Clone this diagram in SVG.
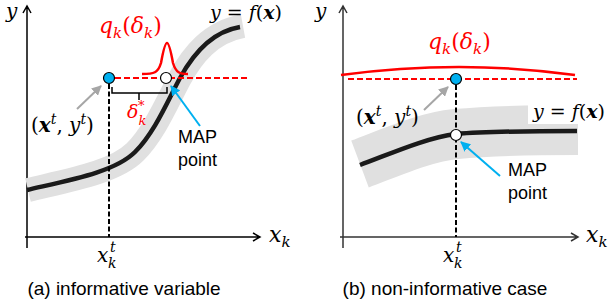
<svg xmlns="http://www.w3.org/2000/svg" width="614" height="304" viewBox="0 0 614 304">
<defs>
<style>
.m{font-family:"DejaVu Serif",serif;font-style:italic}
.u{font-style:normal}
.b{font-weight:bold}
.s{font-family:"Liberation Sans",Arial,sans-serif}
.axis{fill:none;stroke:#000;stroke-width:1.5}
.band{fill:none;stroke:#e0e0e0;stroke-linecap:butt}
.curve{fill:none;stroke:#1a1a1a;stroke-width:4.5;stroke-linecap:butt}
.vdash{fill:none;stroke:#000;stroke-width:2;stroke-dasharray:5 2.5}
.rdash{fill:none;stroke:#ff0000;stroke-width:2;stroke-dasharray:6 3}
.red{fill:none;stroke:#ff0000;stroke-width:2.5}
.garrow{stroke:#a6a6a6;stroke-width:2;fill:none}
.barrow{stroke:#00b0f0;stroke-width:2;fill:none}
</style>
<marker id="ag" viewBox="0 0 10 10" refX="9" refY="5" markerWidth="5" markerHeight="5" orient="auto" markerUnits="strokeWidth"><path d="M0,0 L10,5 L0,10 z" fill="#a6a6a6"/></marker>
<marker id="ab" viewBox="0 0 10 10" refX="9" refY="5" markerWidth="5" markerHeight="5" orient="auto" markerUnits="strokeWidth"><path d="M0,0 L10,5 L0,10 z" fill="#00b0f0"/></marker>
</defs>

<!-- ===== Panel (a) ===== -->
<g id="panel-a-axes">
<path class="axis" d="M27,248 V6 M23,13 L27,6 L31,13"/>
<path class="axis" d="M25,237 H260 M253,233 L260,237 L253,241"/>
<text class="m" x="6" y="18" font-size="20">y</text>
<text class="m" x="269" y="242" font-size="22">x<tspan font-size="15" dy="5">k</tspan></text>
</g>
<g id="a-function">
<path class="band" stroke-width="24" d="M28,190 C70,180 115,172 135,152 C155,132 168,100 180,78 C192,56 210,32 243,26"/>
<path class="curve" d="M27,190 C70,180 115,172 135,152 C155,132 168,100 180,78 C192,56 210,32 240,27"/>
<text class="m" x="210" y="19" font-size="19">y = f<tspan class="u">(</tspan><tspan class="b">x</tspan><tspan class="u">)</tspan></text>
</g>
<g id="a-connectors">
<path class="vdash" d="M109,84 V237"/>
<path class="rdash" d="M115,78 H248"/>
<path fill="none" stroke="#000" stroke-width="1.5" d="M112,87 V93 H167 V87 M139,93 V100"/>
<line class="garrow" x1="77" y1="109" x2="101" y2="86" marker-end="url(#ag)"/>
<line class="barrow" x1="200" y1="126" x2="171" y2="86" marker-end="url(#ab)"/>
</g>
<g id="a-q">
<path class="red" d="M142,74 C154,74 158,73 161,63 C163,52 165,43 167,43 C169,43 171,52 173,63 C176,73 180,74 188,74"/>
<text class="m" x="99" y="33" font-size="22" fill="#ff0000">q<tspan font-size="15" dy="5">k</tspan><tspan class="u" dy="-5">(</tspan>δ<tspan font-size="15" dy="5">k</tspan><tspan class="u" dy="-5">)</tspan></text>
</g>
<g id="a-delta">
<text class="m" x="127" y="118" font-size="19" fill="#ff0000">δ<tspan font-size="13" dy="7">k</tspan></text>
<text class="m" x="138" y="110" font-size="13" fill="#ff0000">*</text>
</g>
<g id="a-point-xy">
<circle cx="109" cy="78" r="5.5" fill="#00b0f0" stroke="#000" stroke-width="1.2"/>
<text class="m" x="31" y="132" font-size="20"><tspan class="u">(</tspan><tspan class="b">x</tspan><tspan font-size="14" dy="-8">t</tspan><tspan class="u" dy="8">, </tspan>y<tspan font-size="14" dy="-8">t</tspan><tspan class="u" dy="8">)</tspan></text>
</g>
<g id="a-map">
<circle cx="166" cy="78" r="5.5" fill="#fff" stroke="#000" stroke-width="1.2"/>
<text class="s" x="178" y="143" font-size="18">MAP</text>
<text class="s" x="178" y="166" font-size="18">point</text>
</g>
<g id="a-xt">
<text class="m" x="97" y="262" font-size="20">x<tspan font-size="14" x="108" dy="6">k</tspan><tspan font-size="14" x="110" dy="-16">t</tspan></text>
</g>
<text class="s" x="124" y="295" font-size="19" text-anchor="middle">(a) informative variable</text>

<!-- ===== Panel (b) ===== -->
<g id="panel-b-axes">
<path class="axis" d="M343,248 V6 M339,13 L343,6 L347,13" style="stroke:#333"/>
<path class="axis" d="M340,237 H578 M571,233 L578,237 L571,241" style="stroke:#333"/>
<text class="m" x="315" y="18" font-size="20">y</text>
<text class="m" x="586" y="242" font-size="22">x<tspan font-size="15" dy="5">k</tspan></text>
</g>
<g id="b-function">
<path class="band" stroke-width="50" d="M360,164 C392,152 425,137 456,134 C490,131 540,130 578,130"/>
<path class="curve" d="M360,165 C390,154 425,138 456,134 C490,131 540,131 577,131"/>
<rect x="528" y="101" width="86" height="23" fill="#fff"/>
<text class="m" x="533" y="118" font-size="19">y = f<tspan class="u">(</tspan><tspan class="b">x</tspan><tspan class="u">)</tspan></text>
</g>
<g id="b-connectors">
<path class="vdash" d="M456,85 V237"/>
<path class="rdash" d="M348,79 H577"/>
<line class="garrow" x1="424" y1="110" x2="448" y2="87" marker-end="url(#ag)"/>
<line class="barrow" x1="500" y1="176" x2="461" y2="142" marker-end="url(#ab)"/>
</g>
<g id="b-q">
<path class="red" d="M341,75 Q460,59 575,75"/>
<text class="m" x="428" y="49" font-size="22" fill="#ff0000">q<tspan font-size="15" dy="5">k</tspan><tspan class="u" dy="-5">(</tspan>δ<tspan font-size="15" dy="5">k</tspan><tspan class="u" dy="-5">)</tspan></text>
</g>
<g id="b-point-xy">
<circle cx="456" cy="79" r="5.5" fill="#00b0f0" stroke="#000" stroke-width="1.2"/>
<text class="m" x="356" y="124" font-size="20"><tspan class="u">(</tspan><tspan class="b">x</tspan><tspan font-size="14" dy="-8">t</tspan><tspan class="u" dy="8">, </tspan>y<tspan font-size="14" dy="-8">t</tspan><tspan class="u" dy="8">)</tspan></text>
</g>
<g id="b-map">
<circle cx="456" cy="135" r="5.5" fill="#fff" stroke="#000" stroke-width="1.2"/>
<text class="s" x="508" y="176" font-size="18">MAP</text>
<text class="s" x="508" y="199" font-size="18">point</text>
</g>
<g id="b-xt">
<text class="m" x="443" y="262" font-size="20">x<tspan font-size="14" x="454" dy="6">k</tspan><tspan font-size="14" x="456" dy="-16">t</tspan></text>
</g>
<text class="s" x="445" y="295" font-size="19" text-anchor="middle">(b) non-informative case</text>
</svg>
